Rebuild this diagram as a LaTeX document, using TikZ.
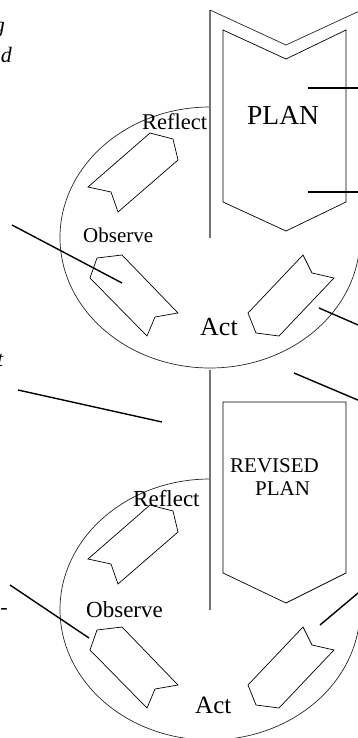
\documentclass[tikz,border=0pt]{standalone}
\usepackage{fontspec}
\setmainfont{Liberation Serif}
\begin{document}
\begin{tikzpicture}[x=1pt,y=-1pt,
  cyc/.style={draw=black,line width=0.7pt,fill=white,line join=miter},
  ring/.style={draw=black!85,line width=0.7pt},
  spine/.style={draw=black!55,line width=1.2pt},
  edge/.style={draw=black!85,line width=0.7pt},
  cover/.style={fill=white,draw=none},
  callout/.style={draw=black,line width=1.4pt},
  lbl/.style={inner sep=0pt,anchor=base west},
  frag/.style={inner sep=0pt,anchor=base east,font=\fontsize{22}{26}\selectfont\itshape}]
\useasboundingbox (0,0) rectangle (358,738);
\clip (0,0) rectangle (358,738);

% ---------- top cycle ----------
\draw[ring] (210,237.5) ellipse [x radius=150, y radius=130.5];
\fill[cover] (210,10) -- (286,45) -- (366,8) -- (366,230) -- (210,230) -- cycle;
\draw[spine] (210,238) -- (210,10);
\draw[edge] (210,10) -- (286,45) -- (366,8);
\draw[cyc] (223,30) -- (286,59) -- (346,30) -- (346,202) -- (286,231) -- (223,202) -- cycle;
\node[lbl,font=\fontsize{27.5}{32}\selectfont] (plan) at (247,125) {PLAN};

\draw[cyc] (88,187) -- (111,192) -- (118,212) -- (178,160) -- (173,139) -- (150,133) -- cycle;
\draw[cyc] (90,278) -- (97,258) -- (122,255) -- (178,313) -- (155,317) -- (147,336) -- cycle;
\draw[cyc] (303,255) -- (312,273) -- (334,278) -- (279,336) -- (256,333) -- (248,313) -- cycle;

\node[lbl,font=\fontsize{22.5}{27}\selectfont] (reflA) at (142,130) {Reflect};
\node[lbl,font=\fontsize{21}{25}\selectfont] (obsA) at (83,242) {Observe};
\node[lbl,font=\fontsize{26}{30}\selectfont] (actA) at (200,335) {Act};

% ---------- bottom cycle ----------
\draw[ring] (210,609.5) ellipse [x radius=150, y radius=130.5];
\fill[cover] (210,370) rectangle (366,590);
\draw[spine] (210,370) -- (210,610);
\draw[cyc] (223,402) -- (346,402) -- (346,573) -- (286,603) -- (223,573) -- cycle;
\node[lbl,font=\fontsize{21}{25}\selectfont] (rev) at (230,472) {REVISED};
\node[lbl,font=\fontsize{21}{25}\selectfont] (revplan) at (255,495) {PLAN};

\begin{scope}[shift={(0,372)}]
\draw[cyc] (88,187) -- (111,192) -- (118,212) -- (178,160) -- (173,139) -- (150,133) -- cycle;
\draw[cyc] (90,278) -- (97,258) -- (122,255) -- (178,313) -- (155,317) -- (147,336) -- cycle;
\draw[cyc] (303,255) -- (312,273) -- (334,278) -- (279,336) -- (256,333) -- (248,313) -- cycle;
\end{scope}

\node[lbl,font=\fontsize{23}{27}\selectfont] (reflB) at (133,506) {Reflect};
\node[lbl,font=\fontsize{23}{27}\selectfont] (obsB) at (86,617) {Observe};
\node[lbl,font=\fontsize{25}{29}\selectfont] (actB) at (195,713) {Act};

% ---------- clipped text fragments ----------
\node[frag] (f1) at (5,33) {g};
\node[frag] (f2) at (12,63) {d};
\node[frag] (f3) at (3.5,366) {t};
\node[frag,font=\fontsize{22}{26}\selectfont] (f4) at (8,614) {-};

% ---------- callout lines ----------
\coordinate (a1) at (308,88);  \coordinate (b1) at (370,88);
\coordinate (a2) at (308,192); \coordinate (b2) at (370,192);
\coordinate (a3) at (12,225);  \coordinate (b3) at (122,283);
\coordinate (a4) at (18,390);  \coordinate (b4) at (162,422);
\coordinate (a5) at (319,308); \coordinate (b5) at (372,331);
\coordinate (a6) at (294,373); \coordinate (b6) at (372,406);
\coordinate (a7) at (10,585);  \coordinate (b7) at (89,638);
\coordinate (a8) at (320,625); \coordinate (b8) at (370,583);
\foreach \i in {1,...,8} {\draw[callout] (a\i) -- (b\i);}
\end{tikzpicture}
\end{document}
